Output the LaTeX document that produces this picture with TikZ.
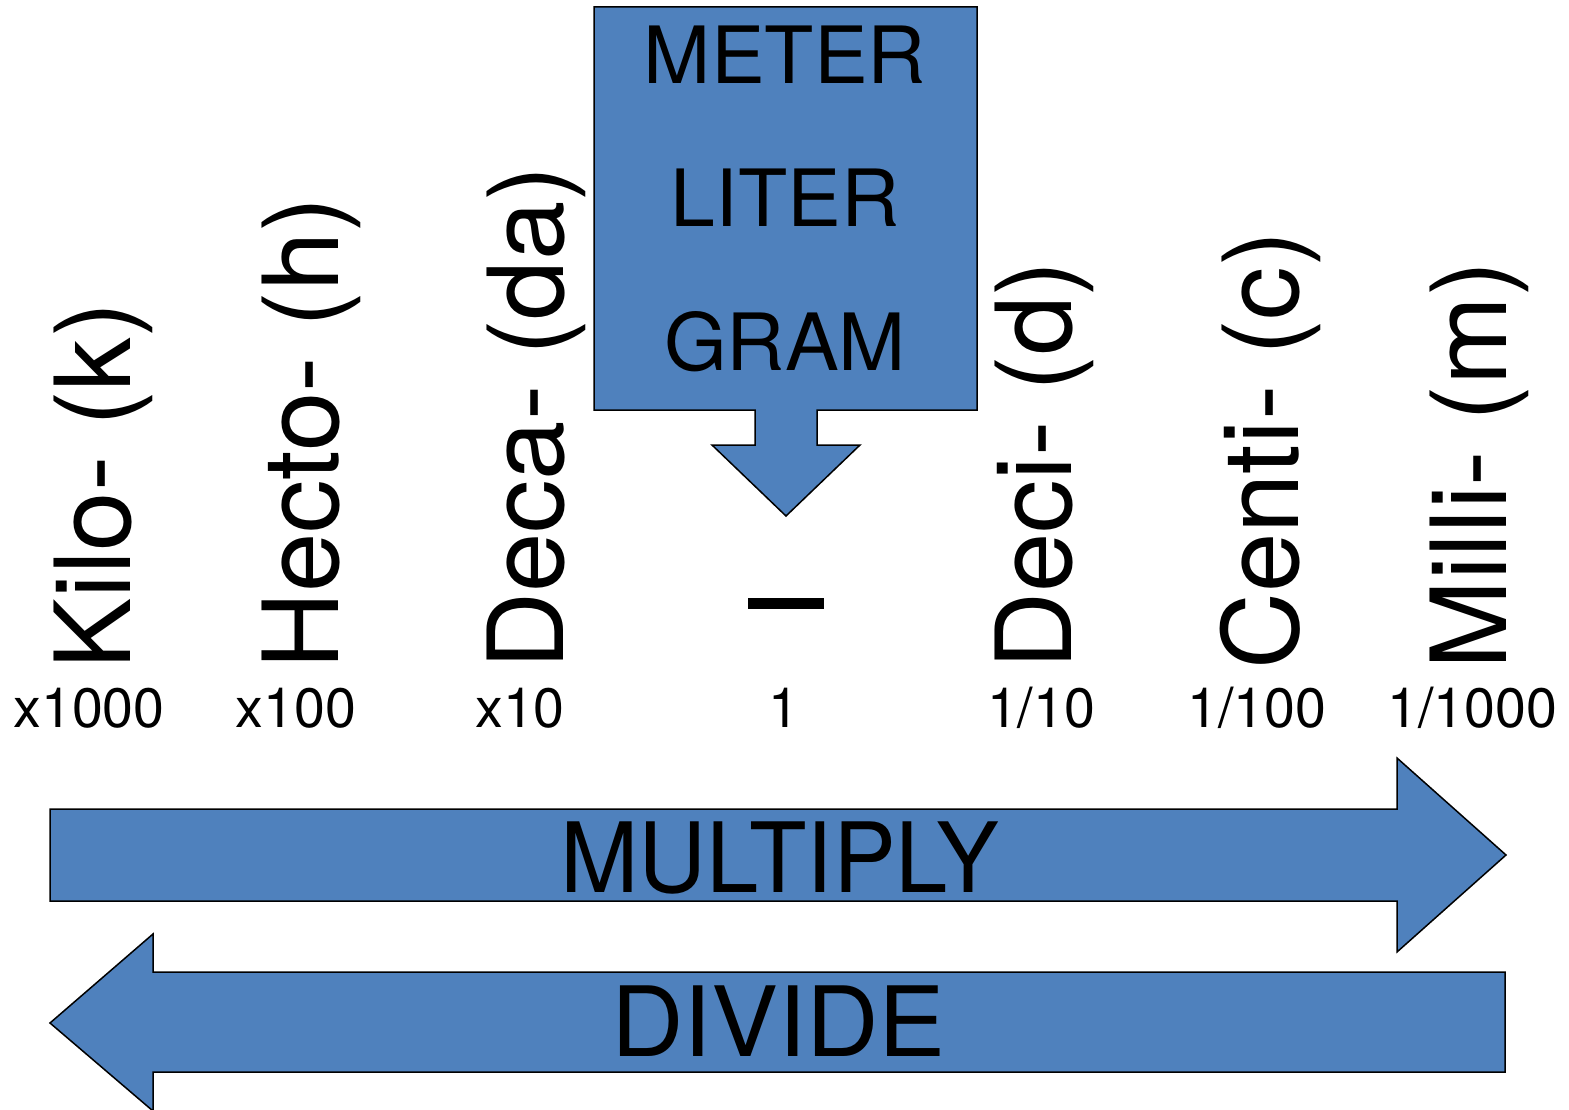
\documentclass[tikz,border=0pt]{standalone}
\usepackage{fontspec}
\setmainfont{TeX Gyre Heros}
\usepackage{graphicx}
\definecolor{officeblue}{RGB}{79,129,189}
\tikzset{
  shapebox/.style={fill=officeblue, draw=black, line width=1.5pt, line join=miter},
  vlabel/.style={rotate=90, anchor=base west, inner sep=0pt, font=\fontsize{105}{105}\selectfont},
  factor/.style={anchor=base, inner sep=0pt, font=\fontsize{55.5}{55.5}\selectfont},
  unitlabel/.style={anchor=base, inner sep=0pt, font=\fontsize{79}{79}\selectfont},
  bigword/.style={anchor=base, inner sep=0pt, font=\fontsize{97}{97}\selectfont}
}
\newcommand{\vstretch}[1]{\scalebox{1.016}[1]{#1}}
\begin{document}
\begin{tikzpicture}[x=1pt, y=-1pt]
\useasboundingbox (0,0) rectangle (1569,1110);
% callout box with down arrow
\draw[shapebox] (594,7) -- (977,7) -- (977,410) -- (817,410) -- (817,445) -- (860,445)
  -- (786,516) -- (712,445) -- (755,445) -- (755,410) -- (594,410) -- cycle;
\node[unitlabel] (meter) at (785,84) {\scalebox{1.02}[1]{METER}};
\node[unitlabel] (liter) at (785,227) {\scalebox{1.02}[1]{LITER}};
\node[unitlabel] (gram) at (785,370) {\scalebox{1.02}[1]{GRAM}};
% vertical prefix labels
\node[vlabel] (kilo) at (130,670) {\vstretch{Kilo- (k)}};
\node[vlabel] (hecto) at (338,670) {\vstretch{Hecto- (h)}};
\node[vlabel] (deca) at (563,670) {\vstretch{Deca- (da)}};
\node[vlabel] (deci) at (1071,670) {\vstretch{Deci- (d)}};
\node[vlabel] (centi) at (1298,670) {\vstretch{Centi- (c)}};
\node[vlabel] (milli) at (1506,670) {\vstretch{Milli- (m)}};
% blank for base unit
\fill[black] (748,598) rectangle (824,609);
% factors
\node[factor] (f1000) at (89,727) {x1000};
\node[factor] (f100) at (296,727) {x100};
\node[factor] (f10) at (520,727) {x10};
\node[factor] (f1) at (784,727) {1};
\node[factor] (d10) at (1041,727) {1/10};
\node[factor] (d100) at (1257,727) {1/100};
\node[factor] (d1000) at (1472,727) {1/1000};
% multiply arrow
\draw[shapebox] (50,809) -- (1397,809) -- (1397,758) -- (1506,855) -- (1397,952)
  -- (1397,901) -- (50,901) -- cycle;
\node[bigword] (multiply) at (780,892) {\scalebox{0.97}[1]{MULTIPLY}};
% divide arrow
\draw[shapebox] (1505,972) -- (153,972) -- (153,934) -- (50,1023) -- (153,1111)
  -- (153,1072) -- (1505,1072) -- cycle;
\node[bigword] (divide) at (778.5,1056) {\scalebox{1.035}[1]{DIVIDE}};
\end{tikzpicture}
\end{document}
